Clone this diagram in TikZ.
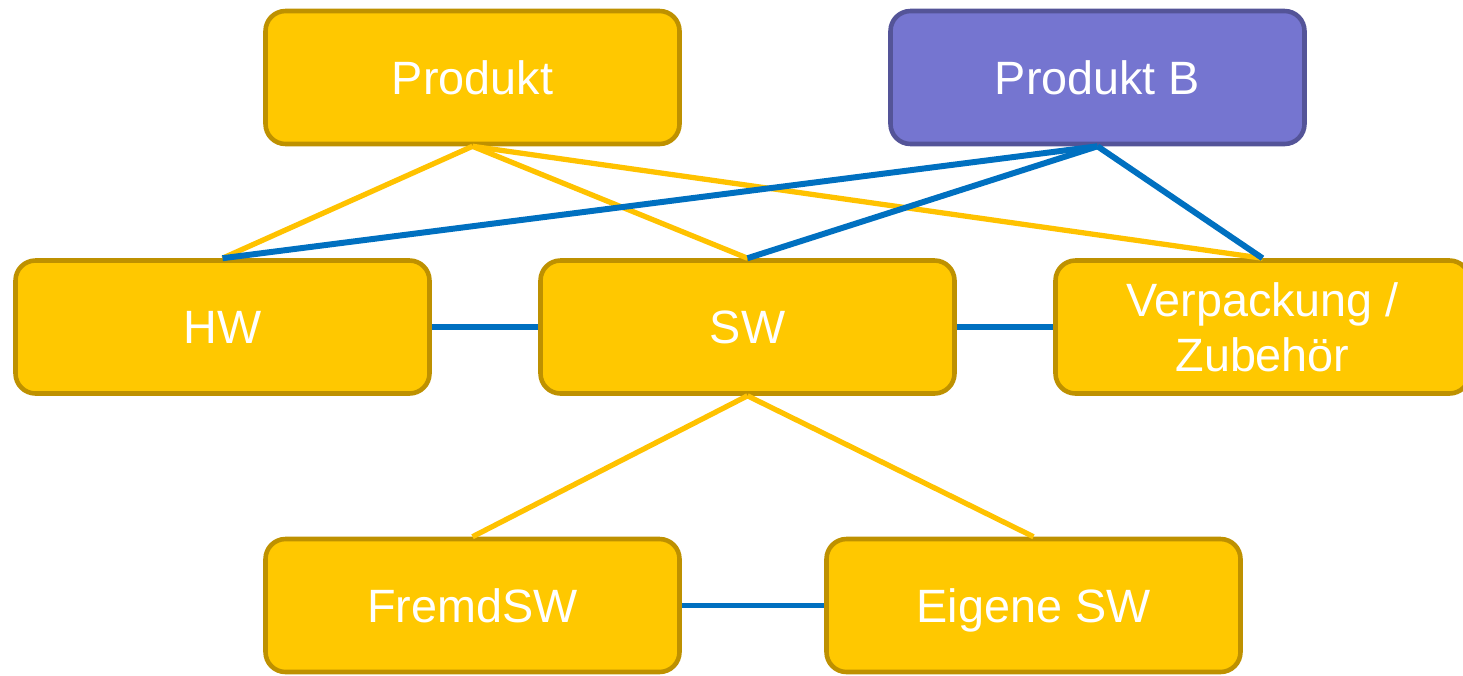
\documentclass[tikz,border=0pt]{standalone}
\usepackage{fontspec}
\setmainfont{Liberation Sans}
\definecolor{gelb}{RGB}{255,200,0}
\definecolor{gelbrand}{RGB}{190,145,0}
\definecolor{lila}{RGB}{117,117,208}
\definecolor{lilarand}{RGB}{84,84,152}
\definecolor{blau}{RGB}{0,112,192}
\definecolor{gelblinie}{RGB}{255,194,0}
\tikzset{every node/.style={rectangle,rounded corners=0.2cm,draw=gelbrand,fill=gelb,line width=1.3pt,
  minimum width=4.14cm,minimum height=1.33cm,text=white,align=center,
  text height=0.33cm,text depth=0pt,
  font=\fontsize{13.3}{15.6}\selectfont}}
\tikzset{b/.style={draw=lilarand,fill=lila}}

\begin{document}
\begin{tikzpicture}
      \useasboundingbox (0,0) rectangle (14.63,-6.75);
      \node (P) at (4.725,-0.775) {Produkt};
      \node (PB)[b] at (10.975,-0.775) {Produkt B};
      \node (HW) at (2.225,-3.27) {HW};
      \node (SW) at (7.475,-3.27) {SW};
      \node (VZ)[text height={},text depth={}] at (12.625,-3.27) {Verpackung /\\Zubehör};
      \node (F) at (4.725,-6.055) {FremdSW};
      \node (E) at (10.335,-6.055) {Eigene SW};
      \foreach \a/\b in {P/HW,P/SW,P/VZ}
        \draw[line width=1.5pt, gelblinie] (\a.south) -- (\b.north);
      \foreach \a/\b in {SW/F,SW/E}
        \draw[line width=1.5pt, gelblinie] (\a.south) -- (\b.north);
      \foreach \a/\b in {PB/HW,PB/SW,PB/VZ}
        \draw[line width=1.7pt, blau] (\a.south) -- (\b.north);

      \draw[line width=1.7pt, blau] (HW) -- (SW);
      \draw[line width=1.7pt, blau] (SW) -- (VZ);
      \draw[line width=1.7pt, blau] (F) -- (E);
    \end{tikzpicture}
\end{document}
